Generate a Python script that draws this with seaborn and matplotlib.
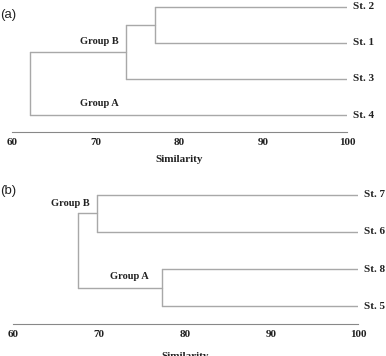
import matplotlib
matplotlib.use("Agg")
import matplotlib.pyplot as plt
import pandas as pd
import seaborn as sns

# Leaves listed top to bottom, merges as (child, child, similarity)
leaves_a = ["St. 2", "St. 1", "St. 3", "St. 4"]
merges_a = [("St. 2", "St. 1", 77.1), ("m0", "St. 3", 73.6), ("m1", "St. 4", 62.1)]
groups_a = [("Group B", 70.4, 3.03), ("Group A", 70.4, 1.31)]

leaves_b = ["St. 7", "St. 6", "St. 8", "St. 5"]
merges_b = [("St. 7", "St. 6", 69.7), ("St. 8", "St. 5", 77.3), ("m0", "m1", 67.5)]
groups_b = [("Group B", 66.7, 3.78), ("Group A", 73.5, 1.81)]

ticks = [60, 70, 80, 90, 100]
line_col = "#a8a8a8"
text_col = "#222222"
serif = "Liberation Serif"


def segments(leaves, merges):
    # node -> (y position, similarity)
    nodes = {name: (len(leaves) - i, 100.0) for i, name in enumerate(leaves)}
    rows = []
    for k, (c1, c2, s) in enumerate(merges):
        y1, s1 = nodes[c1]
        y2, s2 = nodes[c2]
        rows += [(f"{k}h1", s1, y1), (f"{k}h1", s, y1)]
        rows += [(f"{k}h2", s2, y2), (f"{k}h2", s, y2)]
        rows += [(f"{k}v", s, y1), (f"{k}v", s, y2)]
        nodes[f"m{k}"] = ((y1 + y2) / 2, s)
    return pd.DataFrame(rows, columns=["seg", "sim", "y"])


def draw(ax, leaves, merges, groups, ylim, labelpad):
    df = segments(leaves, merges)
    sns.lineplot(data=df, x="sim", y="y", units="seg", estimator=None,
                 sort=False, color=line_col, linewidth=1.0, ax=ax)
    for i, name in enumerate(leaves):
        ax.text(100.75, len(leaves) - i, name, ha="left", va="center",
                fontsize=8, fontweight="bold", family=serif, color=text_col,
                clip_on=False)
    for name, gx, gy in groups:
        ax.text(gx, gy, name, ha="center", va="center", fontsize=7.5,
                fontweight="bold", family=serif, color=text_col)
    ax.set_xlim(60, 100)
    ax.set_ylim(*ylim)
    ax.set_xticks(ticks)
    ax.set_xticklabels([str(t) for t in ticks], fontsize=8, fontweight="bold",
                       family=serif, color=text_col)
    ax.set_yticks([])
    ax.set_ylabel("")
    ax.set_xlabel("Similarity", fontsize=8, fontweight="bold", family=serif,
                  color=text_col, labelpad=labelpad)
    for side in ["top", "right", "left"]:
        ax.spines[side].set_visible(False)
    ax.spines["bottom"].set_color("#888888")
    ax.spines["bottom"].set_linewidth(0.8)
    ax.tick_params(axis="x", direction="inout", length=3, width=0.6,
                   color="#999999", pad=3)
    ax.set_facecolor("white")
    ax.grid(False)


sns.set_style("white")
fig = plt.figure(figsize=(3.86, 3.56), dpi=100)
W, H = 386, 356

# panel (a): x 60->12px, 100->347px; axis line at 132px, top at 0px
ax_a = fig.add_axes([12 / W, (H - 132) / H, 335 / W, 132 / H])
draw(ax_a, leaves_a, merges_a, groups_a, (0.528, 4.194), 5.5)

# panel (b): x 60->13px, 100->358px; axis line at 324px, top at 180px
ax_b = fig.add_axes([13 / W, (H - 324) / H, 345 / W, 144 / H])
draw(ax_b, leaves_b, merges_b, groups_b, (0.514, 4.405), 9)

fig.text(0 / W, 1 - 15 / H, "(a)", ha="left", va="center", fontsize=9.5,
         family="Liberation Sans", color=text_col)
fig.text(0 / W, 1 - 191 / H, "(b)", ha="left", va="center", fontsize=9.5,
         family="Liberation Sans", color=text_col)

fig.savefig("out.png", dpi=100, facecolor="white")
